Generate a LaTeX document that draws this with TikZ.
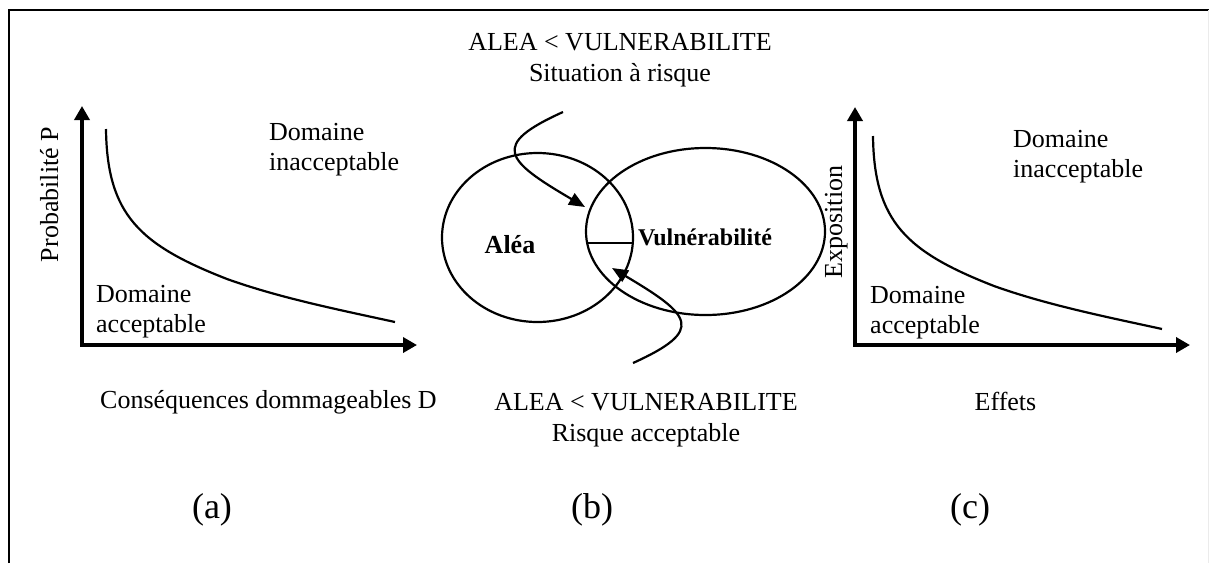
\documentclass[tikz,border=0pt]{standalone}
\usepackage{fontspec}
\setmainfont{Liberation Serif}
\usetikzlibrary{arrows.meta,shapes.geometric}
\tikzset{
  lbl/.style={inner sep=0pt, font=\fontsize{26}{30}\selectfont},
  lblb/.style={inner sep=0pt, font=\fontsize{26}{31}\selectfont},
  big/.style={inner sep=0pt, font=\fontsize{36}{40}\selectfont},
  boldlbl/.style={inner sep=0pt, font=\fontsize{#1}{30}\selectfont\bfseries},
  axisline/.style={line width=3.8pt, line join=miter,
    {Triangle[length=14pt,width=15pt]}-{Triangle[length=14pt,width=15pt]}},
  curveline/.style={line width=2.2pt},
  arrowcurve/.style={line width=2.2pt, -{Triangle[length=16pt,width=13pt]}},
  frameline/.style={line width=2pt},
  venn/.style={ellipse, draw, line width=2.2pt, inner sep=0pt}
}
\begin{document}
\begin{tikzpicture}[x=1pt,y=-1pt]
\useasboundingbox (0,0) rectangle (1209,563);
% frame
\coordinate (fr1) at (9,563);
\coordinate (fr2) at (1209,9.5);
\draw[frameline] (fr1) |- (fr2);
\draw[line width=1pt, black!8] (1208,9.5) -- (1208,563);

% ---------- (a) ----------
\coordinate (aY) at (82,106);
\coordinate (aO) at (82,345);
\coordinate (aX) at (417,345);
\draw[axisline] (aY) -- (aO) -- (aX);
\coordinate (ac1) at (106,129);
\coordinate (ac2) at (227,279);
\coordinate (ac3) at (395,322);
\draw[curveline] (ac1) .. controls (107,215) and (140,245) .. (ac2)
  .. controls (280,298) and (340,310) .. (ac3);
\node[lbl, anchor=base west] (ainacc) at (269,140)
  {\begin{tabular}[t]{@{}l@{}}Domaine\\inacceptable\end{tabular}};
\node[lbl, anchor=base west] (aacc) at (96,302)
  {\begin{tabular}[t]{@{}l@{}}Domaine\\acceptable\end{tabular}};
\node[lbl, rotate=90, anchor=base] (aylab) at (58,194.5) {Probabilité P};
\node[lbl, anchor=base west] (axlab) at (100,408) {Conséquences dommageables D};
\node[big, anchor=base] (acap) at (212,518) {(a)};

% ---------- (b) ----------
\node[venn, minimum width=191pt, minimum height=169pt] (alea) at (537.5,237.5) {};
\node[venn, minimum width=239pt, minimum height=167pt] (vuln) at (705.5,231.5) {};
\coordinate (hl) at (587,243);
\coordinate (hr) at (633,243);
\draw[line width=2pt] (hl) -- (hr);
\node[boldlbl=26, anchor=base] (aleat) at (510,253) {Aléa};
\node[boldlbl=24, anchor=base] (vulnt) at (705,245) {Vulnérabilité};
\coordinate (s1) at (563,112);
\coordinate (t1) at (585,207);
\draw[arrowcurve] (s1) .. controls (490,145) and (505,160) .. (t1);
\coordinate (s2) at (633,363);
\coordinate (t2) at (612,268);
\draw[arrowcurve] (s2) .. controls (706,330) and (691,315) .. (t2);
\node[lblb, anchor=base] (btop) at (620,50)
  {\begin{tabular}[t]{@{}c@{}}ALEA < VULNERABILITE\\Situation à risque\end{tabular}};
\node[lblb, anchor=base] (bbot) at (646,410)
  {\begin{tabular}[t]{@{}c@{}}ALEA < VULNERABILITE\\Risque acceptable\end{tabular}};
\node[big, anchor=base] (bcap) at (592,518) {(b)};

% ---------- (c) ----------
\coordinate (cY) at (855,107);
\coordinate (cO) at (855,345);
\coordinate (cX) at (1190,345);
\draw[axisline] (cY) -- (cO) -- (cX);
\coordinate (cc1) at (873,136);
\coordinate (cc2) at (994,286);
\coordinate (cc3) at (1162,329);
\draw[curveline] (cc1) .. controls (874,222) and (907,252) .. (cc2)
  .. controls (1047,305) and (1107,317) .. (cc3);
\node[lbl, anchor=base west] (cinacc) at (1013,147)
  {\begin{tabular}[t]{@{}l@{}}Domaine\\inacceptable\end{tabular}};
\node[lbl, anchor=base west] (cacc) at (870,303)
  {\begin{tabular}[t]{@{}l@{}}Domaine\\acceptable\end{tabular}};
\node[lbl, rotate=90, anchor=base] (cylab) at (842,222) {Exposition};
\node[lbl, anchor=base] (cxlab) at (1005.5,410) {Effets};
\node[big, anchor=base] (ccap) at (970,518) {(c)};
\end{tikzpicture}
\end{document}
